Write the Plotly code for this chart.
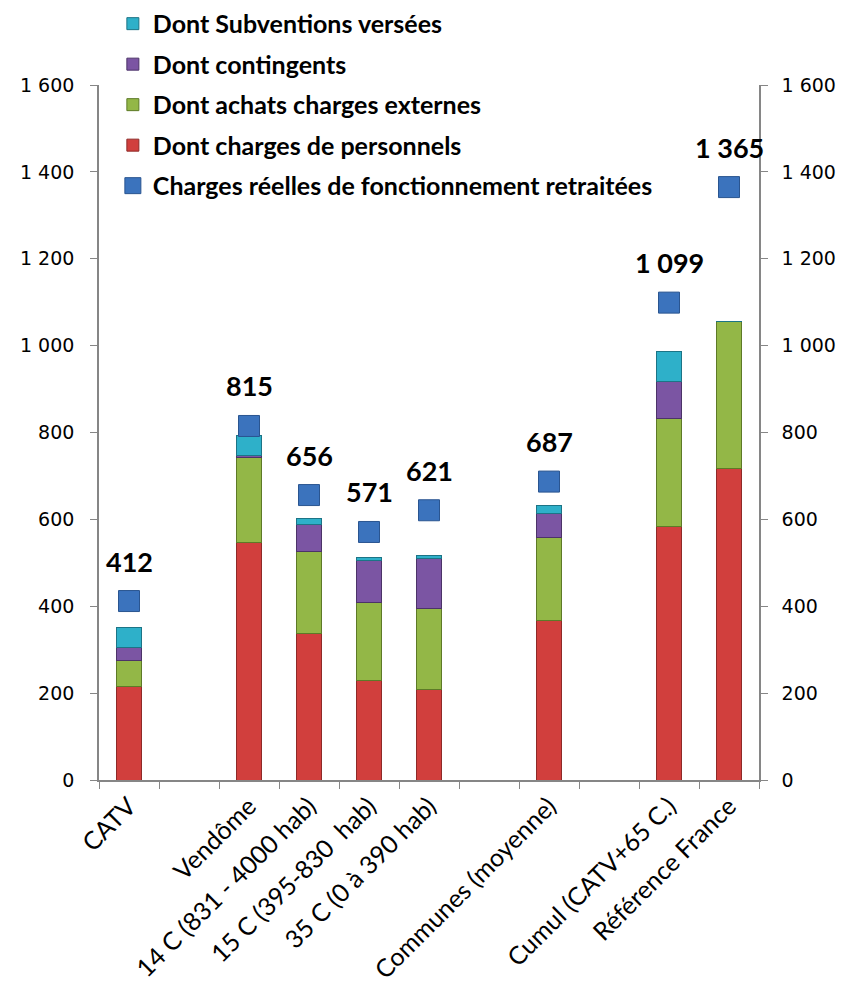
import plotly.graph_objects as go

categories = ["CATV", " ", "Vendôme", "14 C (831 - 4000 hab)", "15 C (395-830\u00a0 hab)",
              "35 C (0 à 390 hab)", "  ", "Communes (moyenne)", "   ",
              "Cumul (CATV+65 C.)", "Référence France"]

personnels   = [216, None, 546, 338, 228, 209, None, 367, None, 583, 718]
achats       = [59,  None, 196, 189, 181, 185, None, 191, None, 250, 337]
contingents  = [29,  None, 4,   62,  97,  115, None, 56,  None, 85,  0]
subventions  = [46,  None, 46,  12,  7,   8,   None, 17,  None, 68,  0]
charges_totales = [412, None, 815, 656, 571, 621, None, 687, None, 1099, 1365]

y_ticks = [0, 200, 400, 600, 800, 1000, 1200, 1400, 1600]
y_ticktext = ["0", "200", "400", "600", "800", "1 000", "1 200", "1 400", "1 600"]

fig = go.Figure()

series = [
    ("Dont charges de personnels", personnels, "#d13f3d", "#8e2a28", 4),
    ("Dont achats charges externes", achats, "#93b747", "#5d7a27", 3),
    ("Dont contingents", contingents, "#7b55a3", "#4c3368", 2),
    ("Dont Subventions versées", subventions, "#2eb0c9", "#1c7486", 1),
]
for name, vals, col, edge, rank in series:
    fig.add_trace(go.Bar(
        x=categories, y=vals, name=name,
        marker=dict(color=col, line=dict(color=edge, width=1)),
        width=0.42, legendrank=rank, legendgroup=name,
    ))

fig.add_trace(go.Scatter(
    x=categories, y=charges_totales, name="Charges réelles de fonctionnement retraitées",
    mode="markers", yaxis="y2",
    marker=dict(symbol="square", size=21, color="#3b73bd",
                line=dict(color="#2a5590", width=1)),
    legendrank=5, legendgroup="tot",
))

for c, v in zip(categories, charges_totales):
    if v is None:
        continue
    fig.add_annotation(
        x=c, y=v, xref="x", yref="y2", yshift=40,
        text=f"{v:,}".replace(",", " "), showarrow=False,
        font=dict(family="Lato", size=27, color="black", weight="bold"),
    )

axis_common = dict(
    range=[0, 1600], tickvals=y_ticks,
    showgrid=False, zeroline=False, showline=True, linecolor="#868686", linewidth=1.5,
    ticks="outside", ticklen=7, tickcolor="#868686",
    tickfont=dict(family="DejaVu Sans", size=19, color="black"),
)

fig.update_layout(
    width=837, height=981,
    margin=dict(l=91, r=86, t=77, b=209, autoexpand=False),
    paper_bgcolor="white", plot_bgcolor="white",
    barmode="stack", bargap=0.58,
    xaxis=dict(
        type="category", range=[-0.5, len(categories) - 0.5],
        showgrid=False, showline=True, linecolor="#868686", linewidth=1.5,
        ticks="outside", ticklen=7, tickcolor="#868686", tickson="boundaries",
        tickangle=-45, tickfont=dict(family="Lato", size=25, color="black"),
    ),
    yaxis=dict(**axis_common, side="left",
               ticktext=[t + "\u00a0\u00a0" for t in y_ticktext]),
    yaxis2=dict(**axis_common, side="right", overlaying="y",
                ticktext=y_ticktext, ticklabelstandoff=10),
    legend=dict(
        x=0.021, y=1.121, xanchor="left", yanchor="top",
        traceorder="grouped", tracegroupgap=5, itemwidth=30,
        font=dict(family="Lato", size=25, color="black", weight="bold"),
        bgcolor="rgba(0,0,0,0)",
    ),
    showlegend=True,
)

fig.write_html("out.html")
